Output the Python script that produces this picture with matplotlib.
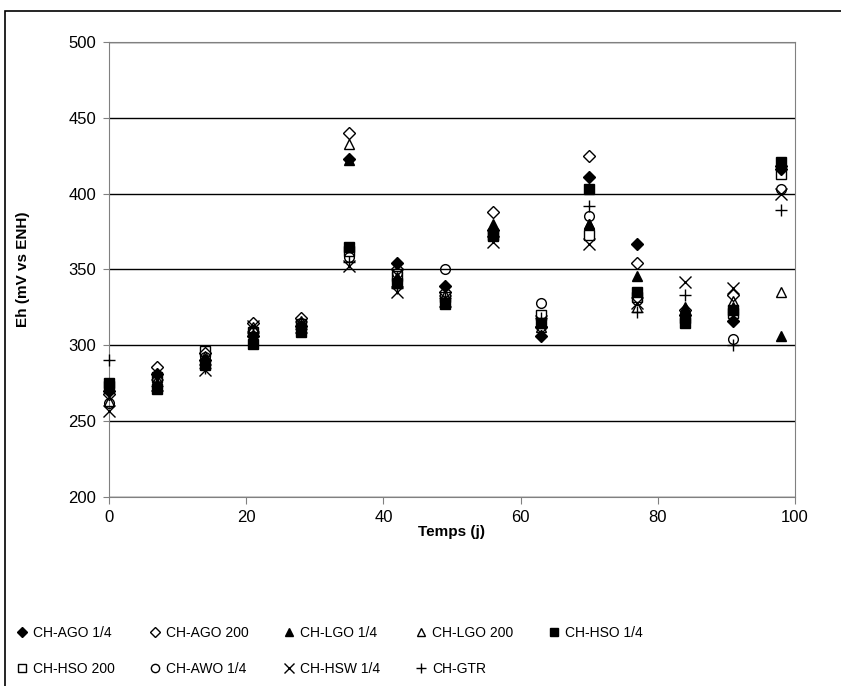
import matplotlib.pyplot as plt
from matplotlib.patches import Rectangle

plt.rcParams['font.family'] = ['Liberation Sans', 'DejaVu Sans']

# jours de mesure
jours = [0, 7, 14, 21, 28, 35, 42, 49, 56, 63, 70, 77, 84, 91, 98]

# Eh (mV vs ENH)
ago_14 = [270, 281, 290, 306, 313, 423, 354, 339, 376, 306, 411, 367, 320, 316, 416]
ago_200 = [268, 286, 295, 315, 318, 440, 350, 335, 388, 312, 425, 354, 323, 333, 418]
lgo_14 = [272, 275, 288, 304, 311, 422, 345, 330, 380, 315, 380, 346, 325, 325, 306]
lgo_200 = [263, 278, 293, 312, 316, 433, 342, 333, 378, 312, 380, 325, 320, 329, 335]
hso_14 = [275, 271, 287, 301, 309, 365, 341, 327, 372, 315, 403, 335, 315, 323, 421]
hso_200 = [273, 279, 296, 309, 314, 362, 346, 332, 373, 320, 373, 332, 318, 321, 413]
awo_14 = [262, 277, 292, 310, 315, 358, 348, 350, 374, 328, 385, 330, 318, 304, 403]
hsw_14 = [257, 274, 284, 313, 312, 352, 335, 329, 368, 316, 367, 328, 342, 338, 400]
gtr = [290, 273, 285, 308, 311, 355, 338, 331, 372, 318, 392, 322, 333, 300, 389]

series = [
    ('CH-AGO 1/4', ago_14, 'D', 'black'),
    ('CH-AGO 200', ago_200, 'D', 'none'),
    ('CH-LGO 1/4', lgo_14, '^', 'black'),
    ('CH-LGO 200', lgo_200, '^', 'none'),
    ('CH-HSO 1/4', hso_14, 's', 'black'),
    ('CH-HSO 200', hso_200, 's', 'none'),
    ('CH-AWO 1/4', awo_14, 'o', 'none'),
    ('CH-HSW 1/4', hsw_14, 'x', 'black'),
    ('CH-GTR', gtr, '+', 'black'),
]

fig = plt.figure(figsize=(8.41, 6.86), dpi=100)
ax = fig.add_axes([0.1296, 0.2755, 0.8157, 0.6633])

handles = []
for nom, vals, mk, fc in series:
    ms = 6 if mk == 'D' else 7
    if mk in ('x', '+'):
        ms = 8
    h, = ax.plot(jours, vals, linestyle='none', marker=mk, markersize=ms,
                 markerfacecolor=fc, markeredgecolor='black', markeredgewidth=1,
                 color='black', label=nom, clip_on=False, zorder=3)
    handles.append(h)

ax.set_xlim(0, 100)
ax.set_ylim(200, 500)
ax.set_xticks(range(0, 101, 20))
ax.set_yticks(range(200, 501, 50))
ax.yaxis.grid(True, color='black', linewidth=1)
ax.set_axisbelow(True)
for s in ax.spines.values():
    s.set_color('#808080')
ax.tick_params(colors='black', labelsize=12, length=4, color='#808080')
ax.tick_params(axis='y', pad=5)
ax.tick_params(axis='x', direction='out', length=5, pad=4)

ax.set_xlabel('Temps (j)', fontsize=11, fontweight='bold', labelpad=0)
ax.set_ylabel('Eh (mV vs ENH)', fontsize=11, fontweight='bold', labelpad=28)

# ordre ligne par ligne pour la légende
ordre = [0, 5, 1, 6, 2, 7, 3, 8, 4]
fig.legend([handles[i] for i in ordre], [series[i][0] for i in ordre],
           ncol=5, loc='upper left', bbox_to_anchor=(0.003, 0.106),
           frameon=False, fontsize=10, handlelength=1.0, handletextpad=0.3,
           columnspacing=2.4, labelspacing=1.6, markerscale=0.85)

# cadre de la zone graphique
fig.patches.append(Rectangle((5 / 841, -0.01), 1.0, 1 - 11 / 686 + 0.01,
                             transform=fig.transFigure, fill=False,
                             edgecolor='black', linewidth=1.2))

fig.savefig('out.png', dpi=100)
